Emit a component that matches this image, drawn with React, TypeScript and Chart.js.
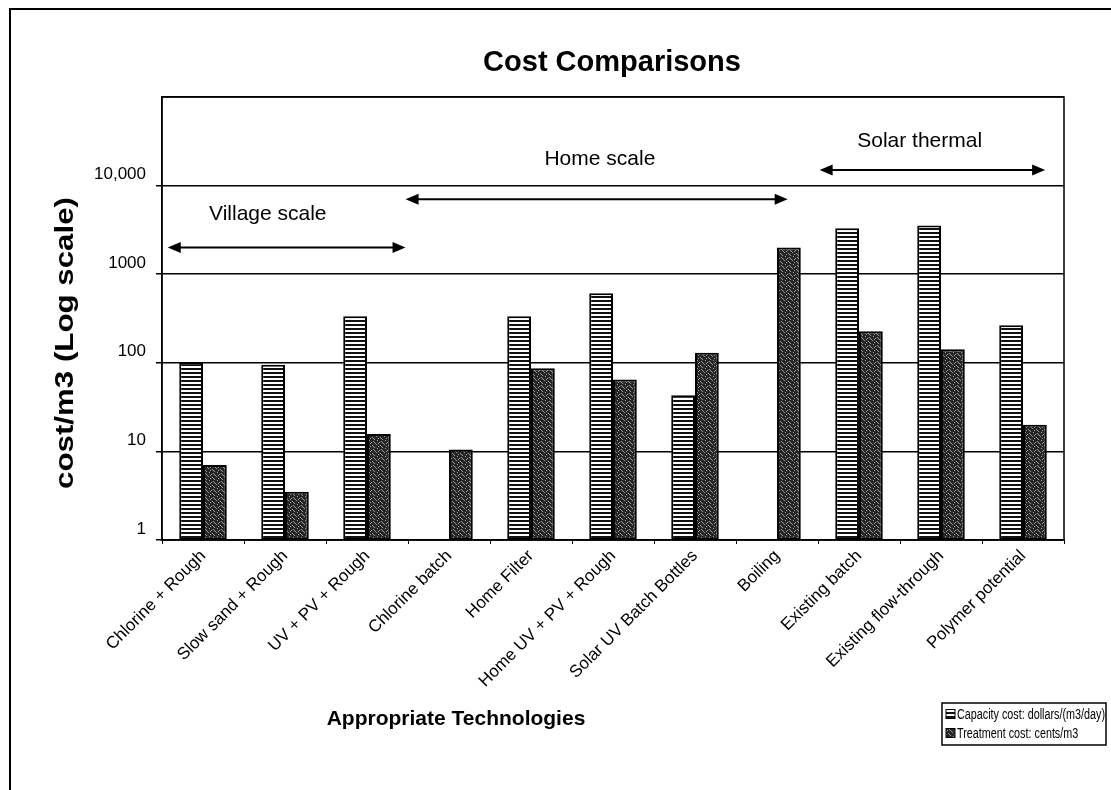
import { useEffect, useRef } from 'react';
import { Chart, registerables } from 'chart.js';

Chart.register(...registerables);

const categories = [
  'Chlorine + Rough',
  'Slow sand + Rough',
  'UV + PV + Rough',
  'Chlorine batch',
  'Home Filter',
  'Home UV + PV + Rough',
  'Solar UV Batch Bottles',
  'Boiling',
  'Existing batch',
  'Existing flow-through',
  'Polymer potential',
];
const capacityCost = [100, 95, 335, null, 335, 610, 43, null, 3300, 3550, 265];
const treatmentCost = [7, 3.5, 15.7, 10.5, 87, 65, 130, 2000, 227, 142, 20];
const seriesLabels = ['Capacity cost: dollars/(m3/day)', 'Treatment cost: cents/m3'];
const yTickValues = [1, 10, 100, 1000, 10000, 100000];
const yTickLabels = ['1', '10', '100', '1000', '10,000', ''];
const chartTitle = 'Cost Comparisons';
const xTitle = 'Appropriate Technologies';
const yTitle = 'cost/m3 (Log scale)';
const rangeLabels = ['Village scale', 'Home scale', 'Solar thermal'];
// ranges in category-index units, arrow level / text level in data units
const rangeFrom = [-0.43, 2.47, 7.52];
const rangeTo = [2.47, 7.13, 10.27];
const rangeArrowLevel = [2000, 7000, 15000];
const rangeTextAt = [0.79, 4.84, 8.74];
const rangeTextLevel = [4700, 20000, 32000];

const FONT = '"Liberation Sans", Arial, Helvetica, sans-serif';

function makeStripePattern(): CanvasPattern | string {
  const c = document.createElement('canvas');
  c.width = 8;
  c.height = 4;
  const g = c.getContext('2d');
  if (!g) return '#fff';
  g.fillStyle = '#ffffff';
  g.fillRect(0, 0, 8, 4);
  g.fillStyle = '#111111';
  g.fillRect(0, 0, 8, 2);
  const p = g.createPattern(c, 'repeat');
  return p || '#fff';
}

function makeSpecklePattern(): CanvasPattern | string {
  const c = document.createElement('canvas');
  c.width = 8;
  c.height = 8;
  const g = c.getContext('2d');
  if (!g) return '#222';
  g.fillStyle = '#262626';
  g.fillRect(0, 0, 8, 8);
  g.fillStyle = '#9a9a9a';
  const dots = [
    [1, 0], [5, 1], [3, 2], [7, 3], [0, 4], [4, 5], [2, 6], [6, 7], [6, 2], [2, 3], [5, 6],
  ];
  dots.forEach(([x, y]) => g.fillRect(x, y, 1, 1));
  const p = g.createPattern(c, 'repeat');
  return p || '#222';
}

function drawArrowHead(ctx: CanvasRenderingContext2D, x: number, y: number, dir: number) {
  ctx.beginPath();
  ctx.moveTo(x, y);
  ctx.lineTo(x - dir * 13, y - 5.5);
  ctx.lineTo(x - dir * 13, y + 5.5);
  ctx.closePath();
  ctx.fill();
}

const decorPlugin = {
  id: 'decor',
  beforeDraw(chart: any) {
    const { ctx, width, height } = chart;
    ctx.save();
    ctx.fillStyle = '#ffffff';
    ctx.fillRect(0, 0, width, height);
    ctx.strokeStyle = '#000';
    ctx.lineWidth = 2;
    ctx.strokeRect(10, 9, width + 20, height + 20);
    ctx.restore();
  },
  afterDraw(chart: any) {
    const { ctx, chartArea: a, scales } = chart;
    const xs = scales.x;
    const ys = scales.y;
    ctx.save();
    // plot border
    ctx.strokeStyle = '#000';
    ctx.lineWidth = 1.5;
    ctx.strokeRect(a.left, a.top, a.right - a.left, a.bottom - a.top);

    ctx.fillStyle = '#000';
    // title
    ctx.font = `bold 29px ${FONT}`;
    ctx.textAlign = 'center';
    ctx.textBaseline = 'alphabetic';
    ctx.fillText(chartTitle, 612, 71);

    // x title
    ctx.font = `bold 21px ${FONT}`;
    ctx.fillText(xTitle, 456, 725);

    // y title
    ctx.save();
    ctx.translate(73, 343);
    ctx.rotate(-Math.PI / 2);
    ctx.font = `bold 25px ${FONT}`;
    const w = ctx.measureText(yTitle).width;
    ctx.scale(292 / w, 1);
    ctx.textAlign = 'center';
    ctx.fillText(yTitle, 0, 0);
    ctx.restore();

    // range annotations
    ctx.font = `21px ${FONT}`;
    ctx.textAlign = 'center';
    ctx.textBaseline = 'middle';
    ctx.lineWidth = 2;
    rangeLabels.forEach((label, i) => {
      const x1 = xs.getPixelForValue(rangeFrom[i]);
      const x2 = xs.getPixelForValue(rangeTo[i]);
      const yy = ys.getPixelForValue(rangeArrowLevel[i]);
      ctx.beginPath();
      ctx.moveTo(x1 + 6, yy);
      ctx.lineTo(x2 - 6, yy);
      ctx.stroke();
      drawArrowHead(ctx, x1, yy, -1);
      drawArrowHead(ctx, x2, yy, 1);
      ctx.fillText(label, xs.getPixelForValue(rangeTextAt[i]), ys.getPixelForValue(rangeTextLevel[i]));
    });

    // legend
    const ds = chart.data.datasets;
    ctx.font = `14px ${FONT}`;
    const tw = Math.max(...seriesLabels.map((s) => ctx.measureText(s).width));
    const textW = 148;
    const sx = textW / tw;
    const right = 1106;
    const top = 703;
    const left = 942;
    const rowH = 19;
    const boxH = 42;
    ctx.fillStyle = '#fff';
    ctx.fillRect(left, top, right - left, boxH);
    ctx.strokeStyle = '#000';
    ctx.lineWidth = 1.5;
    ctx.strokeRect(left, top, right - left, boxH);
    ctx.textAlign = 'left';
    ctx.textBaseline = 'middle';
    seriesLabels.forEach((s, i) => {
      const cy = top + 11 + rowH * i;
      ctx.fillStyle = ds[i].backgroundColor;
      ctx.fillRect(left + 4, cy - 4.5, 9, 9);
      ctx.lineWidth = 1;
      ctx.strokeRect(left + 4, cy - 4.5, 9, 9);
      ctx.fillStyle = '#000';
      ctx.save();
      ctx.translate(left + 15, cy + 1);
      ctx.scale(sx, 1);
      ctx.fillText(s, 0, 0);
      ctx.restore();
    });
    ctx.restore();
  },
};

export default function App() {
  const ref = useRef<HTMLCanvasElement>(null);
  useEffect(() => {
    if (!ref.current) return;
    const stripe = makeStripePattern();
    const speckle = makeSpecklePattern();
    const chart = new Chart(ref.current, {
      type: 'bar',
      data: {
        labels: categories,
        datasets: [
          {
            label: seriesLabels[0],
            data: capacityCost,
            backgroundColor: stripe as any,
            borderColor: '#000',
            borderWidth: 2,
            borderSkipped: false,
            categoryPercentage: 0.58,
            barPercentage: 1,
          },
          {
            label: seriesLabels[1],
            data: treatmentCost,
            backgroundColor: speckle as any,
            borderColor: '#000',
            borderWidth: 2,
            borderSkipped: false,
            categoryPercentage: 0.58,
            barPercentage: 1,
          },
        ],
      },
      options: {
        animation: false,
        responsive: false,
        maintainAspectRatio: false,
        layout: { padding: { left: 0, right: 47, top: 97, bottom: 0 } },
        plugins: {
          legend: { display: false },
          title: { display: false },
          tooltip: { enabled: false },
        },
        scales: {
          x: {
            type: 'category',
            offset: true,
            grid: {
              display: true,
              offset: true,
              drawOnChartArea: false,
              drawTicks: true,
              tickLength: 4,
              color: '#000',
            },
            border: { display: true, color: '#000', width: 1.5 },
            ticks: {
              autoSkip: false,
              maxRotation: 45,
              minRotation: 45,
              color: '#000',
              padding: 2,
              font: { family: FONT, size: 17 },
            },
            afterFit: (s: any) => {
              s.height = 250;
            },
          },
          y: {
            type: 'logarithmic',
            min: 1,
            max: 100000,
            afterBuildTicks: (s: any) => {
              s.ticks = yTickValues.map((v) => ({ value: v }));
            },
            afterFit: (s: any) => {
              s.width = 162;
            },
            grid: {
              color: '#000',
              lineWidth: 1.5,
              drawTicks: true,
              tickLength: 6,
              tickColor: (c: any) => (c.tick && c.tick.value === 100000 ? 'rgba(0,0,0,0)' : '#000'),
            },
            border: { display: true, color: '#000', width: 1.5 },
            ticks: {
              color: '#000',
              padding: 10,
              labelOffset: -11,
              font: { family: FONT, size: 17 },
              callback: (v: any) => {
                const idx = yTickValues.indexOf(Number(v));
                return idx >= 0 ? yTickLabels[idx] : '';
              },
            },
          },
        },
      },
      plugins: [decorPlugin],
    });
    return () => chart.destroy();
  }, []);
  return (
    <div style={{ position: 'fixed', left: 0, top: 0, width: 1111, height: 790, background: '#fff' }}>
      <canvas ref={ref} width={1111} height={790} style={{ display: 'block', width: 1111, height: 790 }} />
    </div>
  );
}
